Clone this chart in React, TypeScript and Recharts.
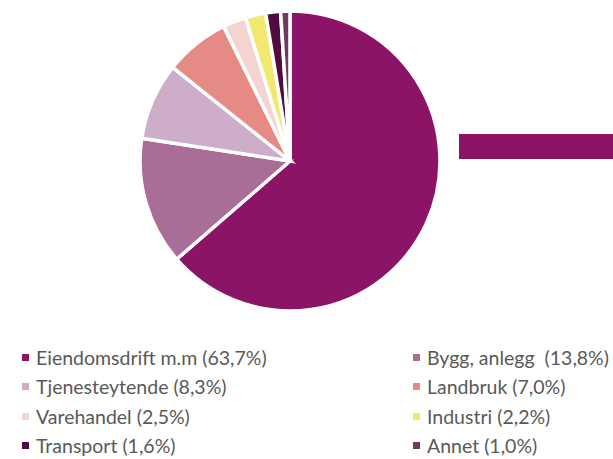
import { PieChart, Pie, Cell, Legend, BarChart, Bar, XAxis, YAxis } from 'recharts';

// sectors, clockwise from 12 o'clock
const sectors = ['Eiendomsdrift m.m', 'Bygg, anlegg ', 'Tjenesteytende', 'Landbruk', 'Varehandel', 'Industri', 'Transport', 'Annet'];
const shares = [63.7, 13.8, 8.3, 7.0, 2.5, 2.2, 1.6, 1.0];
const colors = ['#8B1467', '#A96E97', '#CDADC7', '#E58A84', '#F4D4D0', '#F2E86F', '#500C3E', '#6E3B5F'];

// the cut-off bar to the right (bar-of-pie remnant)
const barValues = [63.7];

const pieData = sectors.map((name, i) => ({ name, value: shares[i], fill: colors[i] }));
const barData = barValues.map((v) => ({ name: 'Eiendomsdrift', value: v }));

const fmt = (v: number) => v.toFixed(1).replace('.', ',');

function LegendGrid() {
  return (
    <div style={{ position: 'relative', width: 613, height: 120 }}>
      {pieData.map((d, i) => {
        const col = i % 2;
        const row = Math.floor(i / 2);
        return (
          <div
            key={d.name}
            style={{
              position: 'absolute',
              left: col === 0 ? 22 : 413,
              top: row * 29.5,
              height: 20,
              display: 'flex',
              alignItems: 'center',
              whiteSpace: 'pre',
              fontFamily: 'Lato, "Open Sans", sans-serif',
              fontSize: 19.5,
              color: '#595959',
            }}
          >
            <span style={{ width: 7, height: 7, background: d.fill, display: 'inline-block', marginRight: 7 }} />
            <span>{`${d.name} (${fmt(d.value)}%)`}</span>
          </div>
        );
      })}
    </div>
  );
}

export default function App() {
  return (
    <div style={{ position: 'absolute', left: 0, top: 0, width: 613, height: 459, background: '#fff', overflow: 'hidden' }}>
      <PieChart width={613} height={459} margin={{ top: 0, right: 0, bottom: 0, left: 0 }}>
        <Pie
          data={pieData}
          dataKey="value"
          nameKey="name"
          cx={290}
          cy={161}
          outerRadius={150}
          startAngle={90}
          endAngle={-270}
          stroke="#ffffff"
          strokeWidth={3.5}
          isAnimationActive={false}
        >
          {pieData.map((d) => (
            <Cell key={d.name} fill={d.fill} />
          ))}
        </Pie>
        <Legend
          content={() => <LegendGrid />}
          wrapperStyle={{ position: 'absolute', left: 0, top: 347, width: 613 }}
        />
      </PieChart>
      <div style={{ position: 'absolute', left: 459, top: 134 }}>
        <BarChart width={160} height={25} data={barData} layout="vertical" margin={{ top: 0, right: 0, bottom: 0, left: 0 }} barCategoryGap={0}>
          <XAxis type="number" hide domain={[0, 63.7]} />
          <YAxis type="category" dataKey="name" hide />
          <Bar dataKey="value" fill="#8B1467" isAnimationActive={false} />
        </BarChart>
      </div>
    </div>
  );
}
